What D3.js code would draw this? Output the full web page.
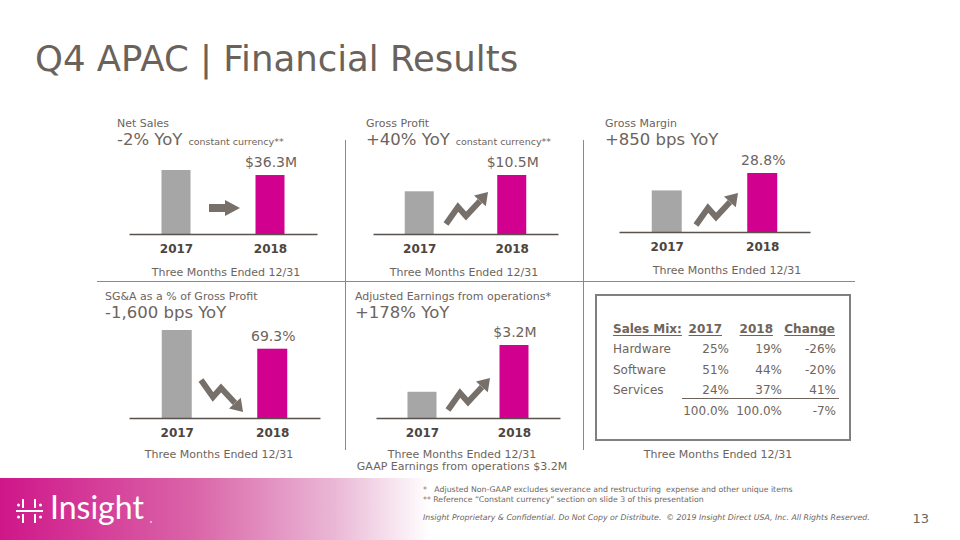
<!DOCTYPE html>
<html>
<head>
<meta charset="utf-8">
<script src="https://cdn.jsdelivr.net/npm/d3@7"></script>
<style>
  html, body { margin: 0; padding: 0; background: #ffffff; }
  svg { display: block; font-family: "DejaVu Sans", Verdana, sans-serif; }
</style>
</head>
<body>
<svg id="chart" width="960" height="540"></svg>
<script>
// ---------------- DATA ----------------
const years = ["2017", "2018"];
const netSales = [39.4, 36.3];        // $M
const grossProfit = [7.6, 10.5];      // $M
const grossMargin = [20.3, 28.8];     // %
const sgaPctGrossProfit = [88.0, 69.3]; // %
const adjEarnings = [1.15, 3.2];      // $M
const valueLabels = ["$36.3M", "$10.5M", "28.8%", "69.3%", "$3.2M"];
const panelTitles = ["Net Sales", "Gross Profit", "Gross Margin", "SG&A as a % of Gross Profit", "Adjusted Earnings from operations*"];
const panelYoY = ["-2% YoY", "+40% YoY", "+850 bps YoY", "-1,600 bps YoY", "+178% YoY"];
const panelNotes = ["constant currency**", "constant currency**", "", "", ""];
const periodLabel = "Three Months Ended 12/31";
const gaapNote = "GAAP Earnings from operations $3.2M";

const tableHeaders = ["Sales Mix:", "2017", "2018", "Change"];
const mixCategories = ["Hardware", "Software", "Services"];
const mix2017 = [25, 51, 24];
const mix2018 = [19, 44, 37];
const mixChange = [-26, -20, 41];
const mixTotals = ["100.0%", "100.0%", "-7%"];

// ---------------- STYLE ----------------
const TXT = "#6e645c";
const DARK = "#4d4540";
const GRAY_BAR = "#a6a6a6";
const MAGENTA = "#d1008f";
const ARROW = "#77706a";
const RULE = "#8a8a8a";

const svg = d3.select("#chart");

// gradient for footer band
const defs = svg.append("defs");
const grad = defs.append("linearGradient").attr("id", "band")
  .attr("gradientUnits", "userSpaceOnUse").attr("x1", 0).attr("x2", 430).attr("y1", 0).attr("y2", 0);
[[0, "#cf1689"], [0.45, "#da64a8"], [0.78, "#eab8d6"], [1, "#ffffff"]].forEach(([o, c]) =>
  grad.append("stop").attr("offset", o).attr("stop-color", c));

// title
svg.append("text").attr("x", 35).attr("y", 71)
  .attr("font-size", 35.5).attr("fill", "#6b625b")
  .text("Q4 APAC | Financial Results");

// separators
svg.append("line").attr("x1", 97).attr("x2", 855).attr("y1", 281.5).attr("y2", 281.5)
  .attr("stroke", RULE).attr("stroke-width", 1);
[345.5, 583.5].forEach(x =>
  svg.append("line").attr("x1", x).attr("x2", x).attr("y1", 140).attr("y2", 450)
    .attr("stroke", RULE).attr("stroke-width", 1));

// ---------------- PANELS ----------------
const panelData = [netSales, grossProfit, grossMargin, sgaPctGrossProfit, adjEarnings];
const layout = [
  { tx: 117, ty: 127, x0: 129, x1: 317, base: 234, top: 170, bw: 29, arrow: "right", ax: 209, ay: 208, fx: 226, fy: 276 },
  { tx: 366, ty: 127, x0: 373, x1: 558, base: 234, top: 175, bw: 29, arrow: "up", ax: 446, ay: 224, fx: 464, fy: 276 },
  { tx: 605, ty: 127, x0: 619, x1: 810, base: 232, top: 173, bw: 30, arrow: "up", ax: 696, ay: 225, fx: 727, fy: 274 },
  { tx: 105, ty: 300, x0: 129, x1: 320, base: 418, top: 330, bw: 30, arrow: "down", ax: 201, ay: 380, fx: 219, fy: 458 },
  { tx: 355, ty: 300, x0: 376, x1: 560, base: 418, top: 345, bw: 29, arrow: "up", ax: 448, ay: 410, fx: 462, fy: 458 }
];

function drawArrow(g, type, x, y) {
  const a = g.append("g").attr("transform", `translate(${x},${y})`);
  if (type === "right") {
    a.append("path").attr("d", "M0,-4 L16,-4 L16,-8 L31,0 L16,8 L16,4 L0,4 Z").attr("fill", ARROW);
    return;
  }
  const s = type === "down" ? 1 : -1;
  const line = d3.line();
  a.append("path")
    .attr("d", line([[0, 0], [12, 17 * s], [20, 8 * s], [34, 23 * s]]))
    .attr("fill", "none").attr("stroke", ARROW).attr("stroke-width", 6)
    .attr("stroke-linejoin", "miter").attr("stroke-miterlimit", 8);
  a.append("path")
    .attr("d", `M42,${32 * s} L39.8,${17.8 * s} L28,${28.6 * s} Z`)
    .attr("fill", ARROW);
}

panelData.forEach((vals, i) => {
  const L = layout[i];
  const g = svg.append("g");
  const x = d3.scalePoint().domain(years).range([L.x0, L.x1]).padding(0.5);
  const y = d3.scaleLinear().domain([0, d3.max(vals)]).range([L.base, L.top]);

  // headings
  g.append("text").attr("x", L.tx).attr("y", L.ty).attr("font-size", 11).attr("fill", TXT).text(panelTitles[i]);
  const yoy = g.append("text").attr("x", L.tx).attr("y", L.ty + 18).attr("fill", TXT);
  yoy.append("tspan").attr("font-size", 16.5).text(panelYoY[i]);
  if (panelNotes[i]) yoy.append("tspan").attr("font-size", 9.5).attr("dx", 6).text(panelNotes[i]);

  // bars
  g.selectAll("rect.bar").data(vals).join("rect").attr("class", "bar")
    .attr("x", (d, j) => x(years[j]) - L.bw / 2)
    .attr("width", L.bw)
    .attr("y", d => y(d))
    .attr("height", d => L.base - y(d))
    .attr("fill", (d, j) => j === 0 ? GRAY_BAR : MAGENTA);

  // baseline axis
  const axis = d3.axisBottom(x).tickSize(0).tickPadding(10);
  const ag = g.append("g").attr("transform", `translate(0,${L.base})`).call(axis);
  ag.select(".domain").attr("stroke", "#5a524d").attr("stroke-width", 1.5);
  ag.selectAll(".tick text").attr("font-family", "DejaVu Sans, Verdana, sans-serif")
    .attr("font-size", 12).attr("font-weight", "bold").attr("fill", DARK);

  // value label on 2018 bar
  g.append("text").attr("x", x(years[1]) + 1).attr("y", y(vals[1]) - 8)
    .attr("text-anchor", "middle").attr("font-size", 14).attr("fill", TXT).text(valueLabels[i]);

  // period label
  g.append("text").attr("x", L.fx).attr("y", L.fy).attr("text-anchor", "middle")
    .attr("font-size", 11).attr("fill", TXT).text(periodLabel);
  if (i === 4) g.append("text").attr("x", L.fx).attr("y", L.fy + 12).attr("text-anchor", "middle")
    .attr("font-size", 11).attr("fill", TXT).text(gaapNote);

  drawArrow(g, L.arrow, L.ax, L.ay);
});

// ---------------- TABLE ----------------
const tb = svg.append("g");
tb.append("rect").attr("x", 596).attr("y", 295).attr("width", 254).attr("height", 145)
  .attr("fill", "#fff").attr("stroke", "#808080").attr("stroke-width", 2);
const colRight = [null, 729, 782, 836];
const headRight = [null, 722, 773, 835];
const headY = 333;
tableHeaders.forEach((h, c) => {
  const t = tb.append("text").attr("y", headY).attr("font-size", 12).attr("font-weight", "bold").attr("fill", TXT).text(h);
  if (c === 0) t.attr("x", 613); else t.attr("x", headRight[c]).attr("text-anchor", "end");
  const w = t.node().getComputedTextLength();
  const xs = c === 0 ? 613 : headRight[c] - w;
  tb.append("line").attr("x1", xs).attr("x2", xs + w).attr("y1", headY + 2.5).attr("y2", headY + 2.5)
    .attr("stroke", TXT).attr("stroke-width", 1);
});
const rowY = d3.scalePoint().domain(mixCategories).range([353, 394]);
const pct = d => d + "%";
mixCategories.forEach((cat, r) => {
  const yy = rowY(cat);
  tb.append("text").attr("x", 613).attr("y", yy).attr("font-size", 12).attr("fill", TXT).text(cat);
  [mix2017[r], mix2018[r], mixChange[r]].forEach((v, k) =>
    tb.append("text").attr("x", colRight[k + 1]).attr("y", yy).attr("text-anchor", "end")
      .attr("font-size", 12).attr("fill", TXT).text(pct(v)));
});
tb.append("line").attr("x1", 682).attr("x2", 839).attr("y1", 398.5).attr("y2", 398.5)
  .attr("stroke", TXT).attr("stroke-width", 1);
mixTotals.forEach((v, k) =>
  tb.append("text").attr("x", colRight[k + 1]).attr("y", 415).attr("text-anchor", "end")
    .attr("font-size", 12).attr("fill", TXT).text(v));
svg.append("text").attr("x", 718).attr("y", 458).attr("text-anchor", "middle")
  .attr("font-size", 11).attr("fill", TXT).text(periodLabel);

// ---------------- FOOTER ----------------
svg.append("rect").attr("x", 0).attr("y", 478).attr("width", 432).attr("height", 62).attr("fill", "url(#band)");
// logo icon
const logo = svg.append("g").attr("stroke", "#fff").attr("fill", "#fff");
logo.append("line").attr("x1", 16).attr("x2", 43).attr("y1", 511).attr("y2", 511).attr("stroke-width", 2);
[[23, 499, 508], [35, 499, 508], [23, 514, 523], [35, 514, 523]].forEach(([x, a, b]) =>
  logo.append("line").attr("x1", x).attr("x2", x).attr("y1", a).attr("y2", b).attr("stroke-width", 2));
[[18.5, 505], [40.5, 505], [18.5, 517], [40.5, 517]].forEach(([cx, cy]) =>
  logo.append("circle").attr("cx", cx).attr("cy", cy).attr("r", 1.5).attr("stroke", "none"));
svg.append("text").attr("x", 50).attr("y", 519).attr("font-family", "Lato, 'Open Sans', sans-serif")
  .attr("font-size", 32).attr("fill", "#fff").text("Insight");
svg.append("circle").attr("cx", 151).attr("cy", 522).attr("r", 1).attr("fill", "#f3c6e0");

// footnotes
const notes = [
  "*   Adjusted Non-GAAP excludes severance and restructuring  expense and other unique items",
  "** Reference \u201CConstant currency\u201D section on slide 3 of this presentation"
];
notes.forEach((n, k) => svg.append("text").attr("x", 423).attr("y", 492 + k * 10)
  .attr("font-size", 7.8).attr("fill", TXT).style("white-space", "pre").text(n));
svg.append("text").attr("x", 423).attr("y", 520).attr("font-size", 7.8).attr("font-style", "italic")
  .attr("fill", TXT).style("white-space", "pre")
  .text("Insight Proprietary & Confidential. Do Not Copy or Distribute.  \u00A9 2019 Insight Direct USA, Inc. All Rights Reserved.");
svg.append("text").attr("x", 929).attr("y", 523).attr("text-anchor", "end").attr("font-size", 13)
  .attr("fill", TXT).text("13");
</script>
</body>
</html>
